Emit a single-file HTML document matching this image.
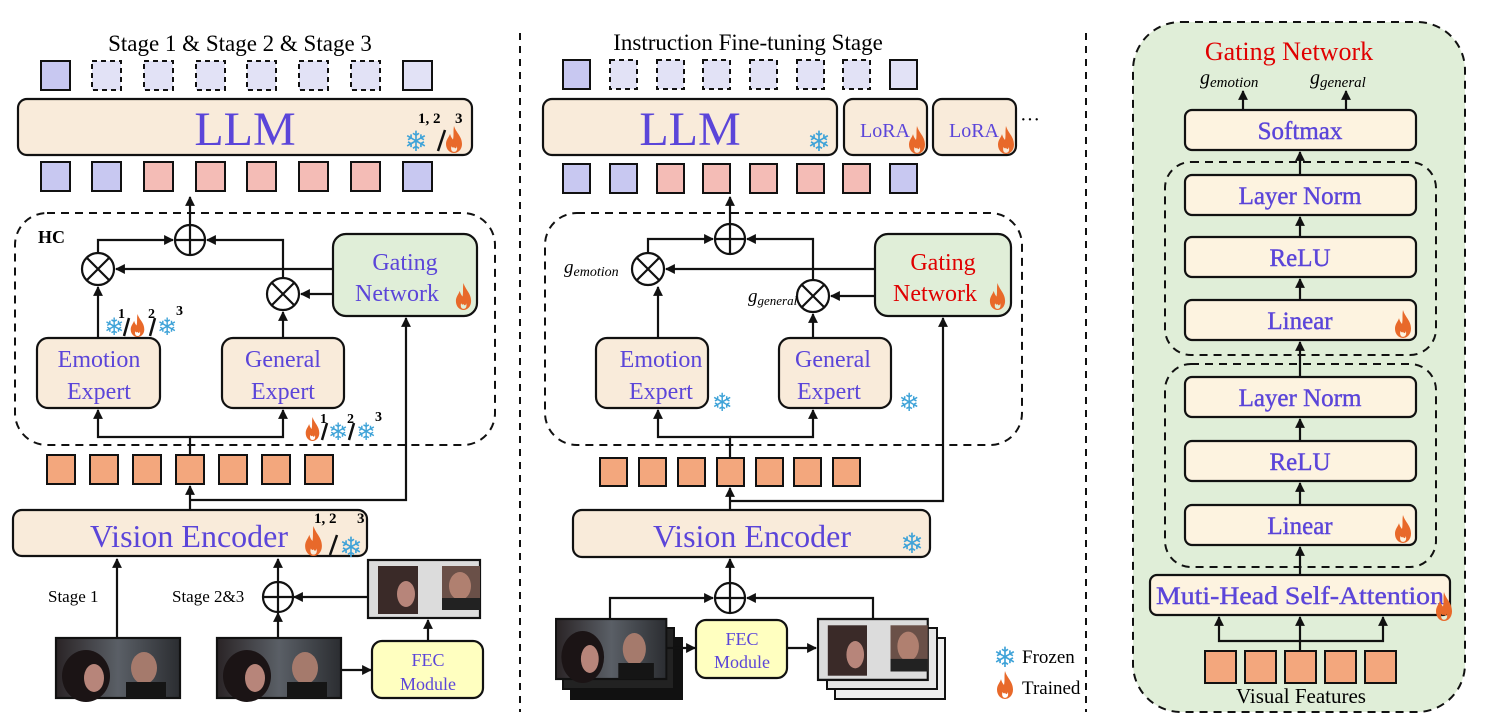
<!DOCTYPE html>
<html><head><meta charset="utf-8"><style>
html,body{margin:0;padding:0;background:#fff}
svg{display:block}
text{font-family:"Liberation Serif",serif}
.p{fill:#5b45d9}
.b{stroke:#111;stroke-width:2.2;fill:none}
.box{stroke:#111;stroke-width:2.2;fill:#f9ebda}
.sn{font-family:"DejaVu Sans",sans-serif;fill:#3fa3d8;font-weight:bold}
</style></head><body>
<svg width="1495" height="727" viewBox="0 0 1495 727" xmlns="http://www.w3.org/2000/svg">
<defs>
<marker id="a" viewBox="0 0 10 10" refX="9" refY="5" markerWidth="4.5" markerHeight="4.5" orient="auto"><path d="M0 0L10 5L0 10z" fill="#111"/></marker>
<symbol id="fl" viewBox="0 0 20 24" preserveAspectRatio="none"><path d="M10 0C12 6 18 9 18 16C18 21 14 24 10 24C6 24 2 21 2 16C2 12 5 10 6 7C7 10 8 11 9 12C10 8 9 4 10 0Z M10 23C7.5 23 6.5 20.5 7.5 18C8.5 19.5 9.5 19.5 10 18.5C11 20.5 12.5 20 12.8 18C13.8 21 12.5 23 10 23Z" fill="#e8692a" fill-rule="evenodd"/></symbol>
<g id="plus"><circle r="15" fill="#fff" stroke="#111" stroke-width="2.2"/><path d="M-15 0H15M0 -15V15" stroke="#111" stroke-width="2.2"/></g>
<g id="times"><circle r="16" fill="#fff" stroke="#111" stroke-width="2.2"/><path d="M-11 -11L11 11M11 -11L-11 11" stroke="#111" stroke-width="2.2"/></g>
<linearGradient id="img" x1="0" x2="1"><stop offset="0" stop-color="#2a2426"/><stop offset="0.5" stop-color="#5a5f66"/><stop offset="1" stop-color="#2b2d31"/></linearGradient>
<g id="photo"><rect width="124" height="60" fill="url(#img)" stroke="#111" stroke-width="2.2"/><ellipse cx="30" cy="38" rx="24" ry="26" fill="#1b1415"/><ellipse cx="38" cy="40" rx="10" ry="14" fill="#b7857a"/><ellipse cx="88" cy="30" rx="13" ry="16" fill="#a57a6c"/><rect x="70" y="44" width="40" height="16" fill="#151515"/></g>
<g id="face"><rect width="112" height="58" fill="#dcdcdc" stroke="#111" stroke-width="2.2"/><rect x="10" y="6" width="40" height="48" fill="#3a2a28"/><ellipse cx="38" cy="34" rx="9" ry="13" fill="#b7857a"/><rect x="74" y="6" width="38" height="44" fill="#6a5048"/><ellipse cx="92" cy="26" rx="11" ry="14" fill="#b08070"/><rect x="74" y="38" width="38" height="12" fill="#222"/></g>
</defs>

<line x1="520" y1="33" x2="520" y2="712" stroke="#111" stroke-width="2" stroke-dasharray="7,6"/>
<line x1="1086" y1="33" x2="1086" y2="712" stroke="#111" stroke-width="2" stroke-dasharray="7,6"/>

<!-- LEFT -->
<text x="240" y="51" font-size="23" text-anchor="middle">Stage 1 &amp; Stage 2 &amp; Stage 3</text>
<g stroke="#111" stroke-width="2">
<rect x="41" y="61" width="29" height="29" fill="#c8c8f1"/>
<g fill="#e2e2f6" stroke-dasharray="5,4"><rect x="92" y="61" width="29" height="29"/><rect x="144" y="61" width="29" height="29"/><rect x="196" y="61" width="29" height="29"/><rect x="247" y="61" width="29" height="29"/><rect x="299" y="61" width="29" height="29"/><rect x="351" y="61" width="29" height="29"/></g>
<rect x="403" y="61" width="29" height="29" fill="#e2e2f6"/>
</g>
<rect x="18" y="99" width="454" height="56" rx="9" class="box"/>
<text x="245" y="145" font-size="48" text-anchor="middle" class="p">LLM</text>
<text x="416" y="151" font-size="28" class="sn" text-anchor="middle">❄</text>
<text x="418" y="123" font-size="15" font-weight="bold">1, 2</text><text x="455" y="123" font-size="15" font-weight="bold">3</text>
<line x1="438" y1="151" x2="445" y2="130" stroke="#111" stroke-width="2.5"/>
<use href="#fl" x="444" y="126" width="20" height="27"/>
<g stroke="#111" stroke-width="2">
<rect x="41" y="162" width="29" height="29" fill="#c8c8f1"/><rect x="92" y="162" width="29" height="29" fill="#c8c8f1"/>
<g fill="#f4bcb6"><rect x="144" y="162" width="29" height="29"/><rect x="196" y="162" width="29" height="29"/><rect x="247" y="162" width="29" height="29"/><rect x="299" y="162" width="29" height="29"/><rect x="351" y="162" width="29" height="29"/></g>
<rect x="403" y="162" width="29" height="29" fill="#c8c8f1"/>
</g>
<rect x="15" y="213" width="480" height="232" rx="32" fill="none" stroke="#111" stroke-width="2" stroke-dasharray="8,6"/>
<text x="38" y="243" font-size="18" font-weight="bold">HC</text>
<line x1="190" y1="225" x2="190" y2="197" class="b" marker-end="url(#a)"/>
<path d="M98 253V240H173" class="b" marker-end="url(#a)"/>
<path d="M283 278V240H207" class="b" marker-end="url(#a)"/>
<line x1="333" y1="269" x2="116" y2="269" class="b" marker-end="url(#a)"/>
<line x1="333" y1="294" x2="301" y2="294" class="b" marker-end="url(#a)"/>
<use href="#plus" x="190" y="240"/>
<use href="#times" x="98" y="269"/>
<use href="#times" x="283" y="294"/>
<rect x="333" y="234" width="144" height="82" rx="13" fill="#e0eed8" stroke="#111" stroke-width="2.2"/>
<text x="405" y="270" font-size="24" text-anchor="middle" class="p">Gating</text>
<text x="397" y="301" font-size="24" text-anchor="middle" class="p">Network</text>
<use href="#fl" x="454" y="283" width="19" height="27"/>
<line x1="98" y1="338" x2="98" y2="287" class="b" marker-end="url(#a)"/>
<line x1="283" y1="338" x2="283" y2="312" class="b" marker-end="url(#a)"/>
<text x="114" y="335" font-size="24" class="sn" text-anchor="middle">❄</text>
<text x="118" y="318" font-size="14" font-weight="bold">1</text><line x1="124" y1="336" x2="129" y2="318" stroke="#111" stroke-width="2.5"/>
<use href="#fl" x="129" y="314" width="17" height="23"/>
<text x="148" y="318" font-size="14" font-weight="bold">2</text><line x1="150" y1="336" x2="155" y2="318" stroke="#111" stroke-width="2.5"/>
<text x="167" y="335" font-size="24" class="sn" text-anchor="middle">❄</text><text x="176" y="315" font-size="14" font-weight="bold">3</text>
<rect x="37" y="338" width="123" height="70" rx="11" class="box"/>
<text x="99" y="367" font-size="24" text-anchor="middle" class="p">Emotion</text>
<text x="99" y="399" font-size="24" text-anchor="middle" class="p">Expert</text>
<rect x="222" y="338" width="122" height="70" rx="11" class="box"/>
<text x="283" y="367" font-size="24" text-anchor="middle" class="p">General</text>
<text x="283" y="399" font-size="24" text-anchor="middle" class="p">Expert</text>
<use href="#fl" x="304" y="417" width="17" height="24"/>
<text x="320" y="423" font-size="14" font-weight="bold">1</text><line x1="322" y1="440" x2="327" y2="423" stroke="#111" stroke-width="2.5"/>
<text x="338" y="440" font-size="24" class="sn" text-anchor="middle">❄</text>
<text x="347" y="423" font-size="14" font-weight="bold">2</text><line x1="349" y1="440" x2="354" y2="423" stroke="#111" stroke-width="2.5"/>
<text x="366" y="440" font-size="24" class="sn" text-anchor="middle">❄</text><text x="375" y="421" font-size="14" font-weight="bold">3</text>
<path d="M190 455V437H98V410" class="b" marker-end="url(#a)"/>
<path d="M190 437H283V410" class="b" marker-end="url(#a)"/>
<g stroke="#111" stroke-width="2" fill="#f3a77d"><rect x="47" y="455" width="28" height="29"/><rect x="90" y="455" width="28" height="29"/><rect x="133" y="455" width="28" height="29"/><rect x="176" y="455" width="28" height="29"/><rect x="219" y="455" width="28" height="29"/><rect x="262" y="455" width="28" height="29"/><rect x="305" y="455" width="28" height="29"/></g>
<line x1="190" y1="510" x2="190" y2="486" class="b" marker-end="url(#a)"/>
<path d="M190 500H406V318" class="b" marker-end="url(#a)"/>
<rect x="13" y="510" width="354" height="46" rx="9" class="box"/>
<text x="189" y="547" font-size="32" text-anchor="middle" class="p">Vision Encoder</text>
<use href="#fl" x="303" y="526" width="21" height="30"/>
<text x="314" y="523" font-size="15" font-weight="bold">1, 2</text><text x="357" y="523" font-size="15" font-weight="bold">3</text>
<line x1="330" y1="555" x2="337" y2="535" stroke="#111" stroke-width="2.5"/>
<text x="351" y="557" font-size="28" class="sn" text-anchor="middle">❄</text>
<text x="48" y="602" font-size="17">Stage 1</text>
<line x1="117" y1="638" x2="117" y2="559" class="b" marker-end="url(#a)"/>
<text x="172" y="602" font-size="17">Stage 2&amp;3</text>
<line x1="278" y1="583" x2="278" y2="559" class="b" marker-end="url(#a)"/>
<line x1="278" y1="638" x2="278" y2="613" class="b" marker-end="url(#a)"/>
<line x1="367" y1="597" x2="294" y2="597" class="b" marker-end="url(#a)"/>
<use href="#plus" x="278" y="597"/>
<use href="#photo" x="56" y="638"/>
<use href="#photo" x="217" y="638"/>
<use href="#face" x="368" y="560"/>
<line x1="341" y1="670" x2="371" y2="670" class="b" marker-end="url(#a)"/>
<line x1="428" y1="641" x2="428" y2="620" class="b" marker-end="url(#a)"/>
<rect x="372" y="641" width="111" height="57" rx="10" fill="#ffffc0" stroke="#111" stroke-width="2.2"/>
<text x="428" y="666" font-size="18" text-anchor="middle" class="p">FEC</text>
<text x="428" y="690" font-size="18" text-anchor="middle" class="p">Module</text>

<!-- MIDDLE -->
<text x="748" y="50" font-size="23" text-anchor="middle">Instruction Fine-tuning Stage</text>
<g stroke="#111" stroke-width="2">
<rect x="563" y="60" width="27" height="29" fill="#c8c8f1"/>
<g fill="#e2e2f6" stroke-dasharray="5,4"><rect x="610" y="60" width="27" height="29"/><rect x="657" y="60" width="27" height="29"/><rect x="703" y="60" width="27" height="29"/><rect x="750" y="60" width="27" height="29"/><rect x="797" y="60" width="27" height="29"/><rect x="843" y="60" width="27" height="29"/></g>
<rect x="890" y="60" width="27" height="29" fill="#e2e2f6"/>
</g>
<rect x="543" y="99" width="294" height="56" rx="9" class="box"/>
<text x="690" y="145" font-size="48" text-anchor="middle" class="p">LLM</text>
<text x="819" y="151" font-size="28" class="sn" text-anchor="middle">❄</text>
<rect x="844" y="99" width="83" height="56" rx="9" class="box"/>
<text x="885" y="137" font-size="20" text-anchor="middle" class="p">LoRA</text>
<use href="#fl" x="907" y="126" width="20" height="28"/>
<rect x="933" y="99" width="83" height="56" rx="9" class="box"/>
<text x="974" y="137" font-size="20" text-anchor="middle" class="p">LoRA</text>
<use href="#fl" x="996" y="126" width="20" height="28"/>
<text x="1020" y="126" font-size="20">···</text>
<g stroke="#111" stroke-width="2">
<rect x="563" y="164" width="27" height="29" fill="#c8c8f1"/><rect x="610" y="164" width="27" height="29" fill="#c8c8f1"/>
<g fill="#f4bcb6"><rect x="657" y="164" width="27" height="29"/><rect x="703" y="164" width="27" height="29"/><rect x="750" y="164" width="27" height="29"/><rect x="797" y="164" width="27" height="29"/><rect x="843" y="164" width="27" height="29"/></g>
<rect x="890" y="164" width="27" height="29" fill="#c8c8f1"/>
</g>
<rect x="545" y="213" width="477" height="232" rx="32" fill="none" stroke="#111" stroke-width="2" stroke-dasharray="8,6"/>
<line x1="730" y1="225" x2="730" y2="197" class="b" marker-end="url(#a)"/>
<path d="M648 253V239H713" class="b" marker-end="url(#a)"/>
<path d="M813 280V239H747" class="b" marker-end="url(#a)"/>
<line x1="875" y1="269" x2="666" y2="269" class="b" marker-end="url(#a)"/>
<line x1="875" y1="296" x2="831" y2="296" class="b" marker-end="url(#a)"/>
<use href="#plus" x="730" y="239"/>
<use href="#times" x="648" y="269"/>
<use href="#times" x="813" y="296"/>
<text x="564" y="273" font-size="19" font-style="italic">g<tspan font-size="14" dy="3">emotion</tspan></text>
<text x="748" y="302" font-size="19" font-style="italic">g<tspan font-size="13" dy="3">general</tspan></text>
<rect x="875" y="234" width="136" height="82" rx="13" fill="#e0eed8" stroke="#111" stroke-width="2.2"/>
<text x="943" y="270" font-size="24" text-anchor="middle" fill="#e00000">Gating</text>
<text x="935" y="301" font-size="24" text-anchor="middle" fill="#e00000">Network</text>
<use href="#fl" x="988" y="283" width="19" height="27"/>
<line x1="658" y1="338" x2="658" y2="287" class="b" marker-end="url(#a)"/>
<line x1="813" y1="338" x2="813" y2="314" class="b" marker-end="url(#a)"/>
<rect x="596" y="338" width="112" height="70" rx="11" class="box"/>
<text x="661" y="367" font-size="24" text-anchor="middle" class="p">Emotion</text>
<text x="661" y="399" font-size="24" text-anchor="middle" class="p">Expert</text>
<text x="722" y="411" font-size="25" class="sn" text-anchor="middle">❄</text>
<rect x="779" y="338" width="112" height="70" rx="11" class="box"/>
<text x="833" y="367" font-size="24" text-anchor="middle" class="p">General</text>
<text x="829" y="399" font-size="24" text-anchor="middle" class="p">Expert</text>
<text x="909" y="411" font-size="25" class="sn" text-anchor="middle">❄</text>
<path d="M730 458V437H658V410" class="b" marker-end="url(#a)"/>
<path d="M730 437H813V410" class="b" marker-end="url(#a)"/>
<g stroke="#111" stroke-width="2" fill="#f3a77d"><rect x="600" y="458" width="27" height="28"/><rect x="639" y="458" width="27" height="28"/><rect x="678" y="458" width="27" height="28"/><rect x="717" y="458" width="27" height="28"/><rect x="756" y="458" width="27" height="28"/><rect x="794" y="458" width="27" height="28"/><rect x="833" y="458" width="27" height="28"/></g>
<line x1="730" y1="510" x2="730" y2="488" class="b" marker-end="url(#a)"/>
<path d="M730 501H943V318" class="b" marker-end="url(#a)"/>
<rect x="573" y="510" width="357" height="47" rx="9" class="box"/>
<text x="752" y="547" font-size="32" text-anchor="middle" class="p">Vision Encoder</text>
<text x="912" y="553" font-size="28" class="sn" text-anchor="middle">❄</text>
<line x1="730" y1="583" x2="730" y2="559" class="b" marker-end="url(#a)"/>
<path d="M610 619V598H713" class="b" marker-end="url(#a)"/>
<path d="M873 619V598H747" class="b" marker-end="url(#a)"/>
<use href="#plus" x="730" y="598"/>
<rect x="571" y="638" width="111" height="61" fill="#111" stroke="#111" stroke-width="2"/>
<rect x="563" y="628" width="111" height="61" fill="#222" stroke="#111" stroke-width="2"/>
<use href="#photo" transform="translate(556 619) scale(0.89 1.0)"/>
<line x1="667" y1="648" x2="695" y2="648" class="b" marker-end="url(#a)"/>
<rect x="696" y="620" width="91" height="58" rx="10" fill="#ffffc0" stroke="#111" stroke-width="2.2"/>
<text x="742" y="645" font-size="18" text-anchor="middle" class="p">FEC</text>
<text x="742" y="668" font-size="18" text-anchor="middle" class="p">Module</text>
<line x1="787" y1="648" x2="816" y2="648" class="b" marker-end="url(#a)"/>
<rect x="835" y="638" width="110" height="61" fill="#eee" stroke="#111" stroke-width="2"/>
<rect x="827" y="628" width="110" height="61" fill="#e6e6e6" stroke="#111" stroke-width="2"/>
<use href="#face" transform="translate(818 619) scale(0.98 1.05)"/>
<text x="1005" y="667" font-size="28" class="sn" text-anchor="middle">❄</text>
<text x="1022" y="663" font-size="19">Frozen</text>
<use href="#fl" x="995" y="671" width="20" height="28"/>
<text x="1022" y="694" font-size="19">Trained</text>

<!-- RIGHT -->
<rect x="1133" y="22" width="332" height="690" rx="48" fill="#e0eed8" stroke="#111" stroke-width="2" stroke-dasharray="8,6"/>
<text x="1289" y="60" font-size="26" text-anchor="middle" fill="#e00000">Gating Network</text>
<text x="1200" y="84" font-size="20" font-style="italic">g<tspan font-size="15" dy="3">emotion</tspan></text>
<text x="1310" y="84" font-size="20" font-style="italic">g<tspan font-size="15" dy="3">general</tspan></text>
<line x1="1243" y1="110" x2="1243" y2="91" class="b" marker-end="url(#a)"/>
<line x1="1346" y1="110" x2="1346" y2="91" class="b" marker-end="url(#a)"/>
<g stroke="#111" stroke-width="2.2" fill="#fdf3e0">
<rect x="1185" y="110" width="231" height="40" rx="7"/>
<rect x="1185" y="175" width="231" height="40" rx="7"/>
<rect x="1185" y="237" width="231" height="40" rx="7"/>
<rect x="1185" y="300" width="231" height="40" rx="7"/>
<rect x="1185" y="377" width="231" height="40" rx="7"/>
<rect x="1185" y="441" width="231" height="40" rx="7"/>
<rect x="1185" y="505" width="231" height="40" rx="7"/>
<rect x="1150" y="575" width="300" height="40" rx="7"/>
</g>
<rect x="1165" y="162" width="271" height="193" rx="26" fill="none" stroke="#111" stroke-width="2" stroke-dasharray="8,6"/>
<rect x="1165" y="364" width="271" height="203" rx="26" fill="none" stroke="#111" stroke-width="2" stroke-dasharray="8,6"/>
<g font-size="25" text-anchor="middle" class="p" stroke="#5b45d9" stroke-width="0.4">
<text x="1300" y="139">Softmax</text>
<text x="1300" y="204">Layer Norm</text>
<text x="1300" y="266">ReLU</text>
<text x="1300" y="329">Linear</text>
<text x="1300" y="406">Layer Norm</text>
<text x="1300" y="470">ReLU</text>
<text x="1300" y="534">Linear</text>
<text x="1300" y="604" textLength="288" lengthAdjust="spacingAndGlyphs">Muti-Head Self-Attention</text>
</g>
<use href="#fl" x="1393" y="310" width="20" height="28"/>
<use href="#fl" x="1393" y="515" width="20" height="28"/>
<use href="#fl" x="1434" y="592" width="20" height="29"/>
<g class="b" marker-end="url(#a)">
<line x1="1300" y1="175" x2="1300" y2="152"/>
<line x1="1300" y1="237" x2="1300" y2="217"/>
<line x1="1300" y1="300" x2="1300" y2="279"/>
<line x1="1300" y1="377" x2="1300" y2="342"/>
<line x1="1300" y1="441" x2="1300" y2="419"/>
<line x1="1300" y1="505" x2="1300" y2="483"/>
<line x1="1300" y1="575" x2="1300" y2="547"/>
<line x1="1300" y1="651" x2="1300" y2="617"/>
<path d="M1300 641H1219V617"/>
<path d="M1300 641H1383V617"/>
</g>
<g stroke="#111" stroke-width="2" fill="#f3a77d"><rect x="1205" y="651" width="31" height="32"/><rect x="1245" y="651" width="31" height="32"/><rect x="1285" y="651" width="31" height="32"/><rect x="1325" y="651" width="31" height="32"/><rect x="1365" y="651" width="31" height="32"/></g>
<text x="1301" y="703" font-size="21" text-anchor="middle">Visual Features</text>
</svg>
</body></html>
